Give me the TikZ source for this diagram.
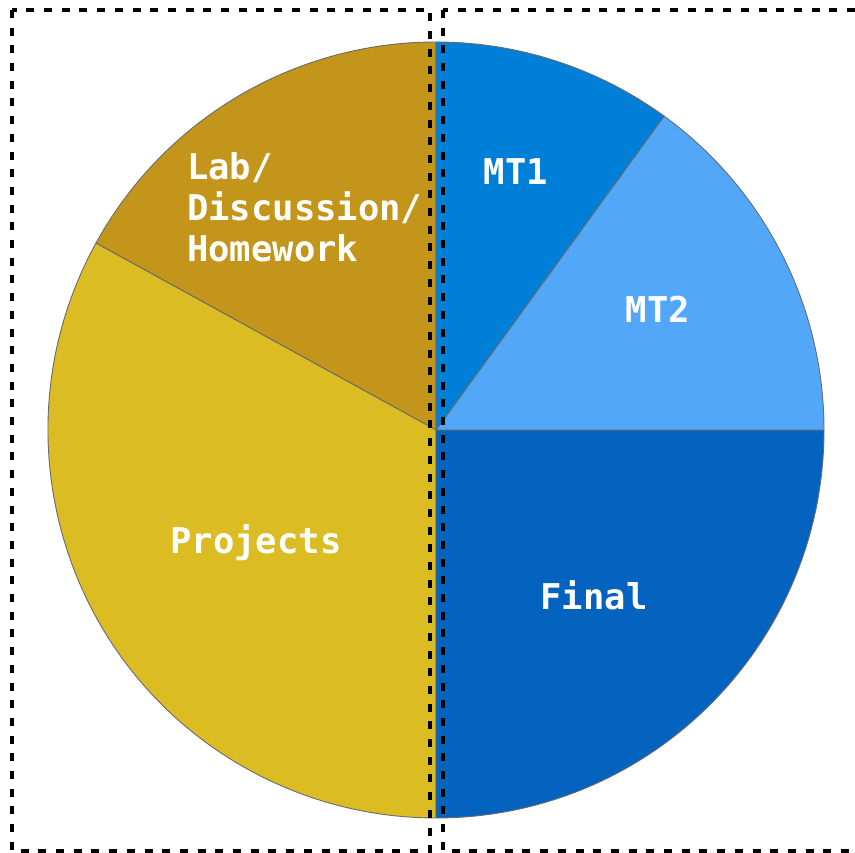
\documentclass[tikz,border=0pt]{standalone}
\usepackage{fontspec}
\setmonofont{DejaVu Sans Mono}
\usepackage{tikz}
\usetikzlibrary{positioning}

\definecolor{labgold}{HTML}{C3961B}
\definecolor{projyellow}{HTML}{DBBD23}
\definecolor{mtoneblue}{HTML}{007FD9}
\definecolor{mttwoblue}{HTML}{52A7F8}
\definecolor{finalblue}{HTML}{0363BF}
\definecolor{rimgray}{HTML}{6A6A6A}

\begin{document}
\begin{tikzpicture}[x=1pt, y=1pt,
    slice/.style={draw=rimgray, line width=0.9pt},
    label/.style={text=white, inner sep=0pt, font=\fontsize{35.5}{41}\selectfont\ttfamily\bfseries},
    halfbox/.style={draw=black, line width=3.6pt, dash pattern=on 8pt off 9.7pt}]
    \useasboundingbox (0,0) rectangle (855,853);
    \coordinate (O) at (436,423);

    % pie slices
    \filldraw[slice, fill=labgold]    (O) -- ++(90:388)    arc (90:151.2:388)  -- cycle;
    \filldraw[slice, fill=projyellow] (O) -- ++(151.2:388) arc (151.2:270:388) -- cycle;
    \filldraw[slice, fill=finalblue]  (O) -- ++(270:388)   arc (270:360:388)   -- cycle;
    \filldraw[slice, fill=mttwoblue]  (O) -- ++(0:388)     arc (0:54:388)      -- cycle;
    \filldraw[slice, fill=mtoneblue]  (O) -- ++(54:388)    arc (54:90:388)     -- cycle;

    \begin{scope}[every node/.style={label}]
        \node (lab) [anchor=north west, align=left] at (187,701) {Lab/\\Discussion/\\Homework};
        \node (mtone) at (516,681) {MT1};
        \node (mttwo) at (658,544) {MT2};
        \node (projects) at (256,310) {Projects};
        \node (final) at (594,258) {Final};
    \end{scope}

    % the two halves
    \draw[halfbox] (12,843) rectangle (430,2);
    \draw[halfbox] (443,843) rectangle (870,2);
\end{tikzpicture}
\end{document}
